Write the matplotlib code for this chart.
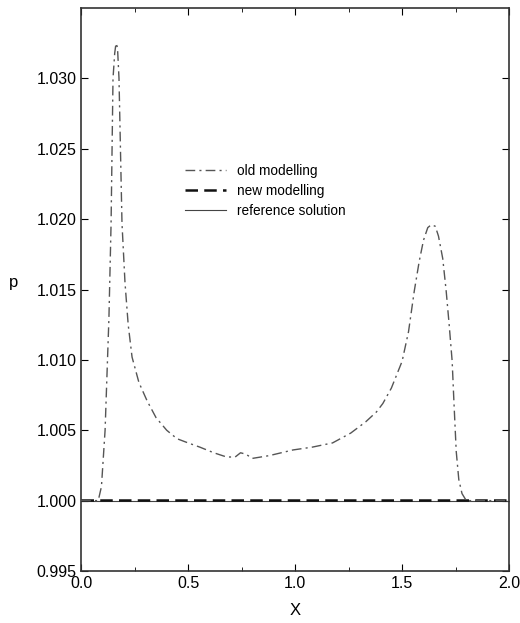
import numpy as np
import matplotlib
matplotlib.use("Agg")
import matplotlib.pyplot as plt
from matplotlib.ticker import MultipleLocator

plt.rcParams.update({
    "font.family": ["Liberation Sans", "DejaVu Sans"],
    "font.size": 11,
})

# old modelling: pressure bump
x_old = [0.0, 0.05, 0.08, 0.095, 0.112, 0.13, 0.140, 0.149, 0.157, 0.163,
         0.170, 0.177, 0.191, 0.205, 0.22, 0.238, 0.27, 0.308, 0.35, 0.40,
         0.448, 0.50, 0.555, 0.62, 0.68, 0.72, 0.745, 0.77, 0.80, 0.88,
         0.99, 1.08, 1.175, 1.26, 1.33, 1.38, 1.41, 1.45, 1.50, 1.53,
         1.557, 1.58, 1.60, 1.62, 1.636, 1.655, 1.67, 1.69, 1.706, 1.72,
         1.734, 1.742, 1.753, 1.765, 1.78, 1.80, 1.85, 2.0]
p_old = [1.000, 1.000, 1.000, 1.001, 1.005, 1.013, 1.0197, 1.030, 1.0318, 1.0325,
         1.0322, 1.030, 1.0197, 1.0155, 1.0125, 1.0102, 1.0084, 1.0071, 1.0059, 1.0050,
         1.0044, 1.0041, 1.0038, 1.0034, 1.0031, 1.0031, 1.0034, 1.0033, 1.0030, 1.0032,
         1.0036, 1.0038, 1.0041, 1.0048, 1.0056, 1.0063, 1.0069, 1.0080, 1.0099, 1.0120,
         1.0149, 1.0170, 1.0185, 1.0194, 1.0196, 1.0195, 1.0188, 1.0172, 1.0149, 1.0125,
         1.0099, 1.0071, 1.0035, 1.0015, 1.0005, 1.000, 1.000, 1.000]

# new modelling and reference solution stay at the ambient value
x_flat = [0.0, 2.0]
p_new = [1.00003, 1.00003]
p_ref = [1.000, 1.000]

fig, ax = plt.subplots(figsize=(5.2, 6.23), dpi=100)
fig.subplots_adjust(left=0.156, right=0.979, bottom=0.0835, top=0.987)

ax.plot(x_flat, p_ref, color="#444444", lw=0.8, ls="-",
        label="reference solution", zorder=2)
ax.plot(x_flat, p_new, color="#111111", lw=1.8, ls=(0, (5, 2.5)),
        label="new modelling", zorder=3)
ax.plot(x_old, p_old, color="#555555", lw=1.0, ls=(0, (7, 3, 1.5, 3)),
        label="old modelling", zorder=4)

ax.set_xlim(0.0, 2.0)
ax.set_ylim(0.995, 1.035)
ax.xaxis.set_minor_locator(MultipleLocator(0.25))
yt = np.arange(0.995, 1.0301, 0.005)
ax.set_yticks(yt)
ax.set_yticklabels([f"{v:.3f}" for v in yt])
ax.set_xticks([0.0, 0.5, 1.0, 1.5, 2.0])
ax.set_xticklabels(["0.0", "0.5", "1.0", "1.5", "2.0"])
ax.tick_params(which="both", direction="in", top=True, right=True)
ax.tick_params(which="major", length=5, labelsize=11.5)
ax.tick_params(which="minor", length=3)
for sp in ax.spines.values():
    sp.set_linewidth(1.2)
    sp.set_color("#333333")

ax.set_xlabel("X", fontsize=12, labelpad=9)
ax.set_ylabel("p", fontsize=12, rotation=0, labelpad=16)

h, l = ax.get_legend_handles_labels()
ax.legend(h[::-1], l[::-1], loc="upper left", bbox_to_anchor=(0.215, 0.745),
          frameon=False, handlelength=3.0, handletextpad=0.8,
          labelspacing=0.45, fontsize=9.8)

fig.savefig("out.png", dpi=100)
